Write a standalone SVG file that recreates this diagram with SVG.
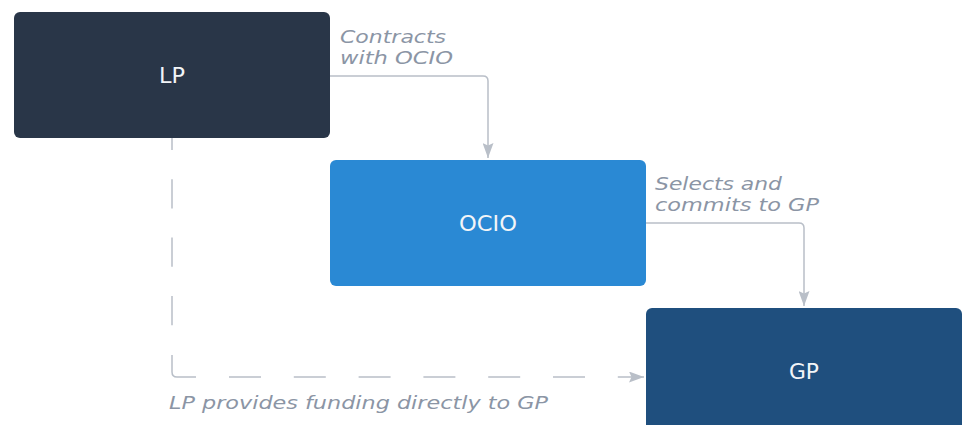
<svg xmlns="http://www.w3.org/2000/svg" width="964" height="425" viewBox="0 0 964 425">
  <defs>
    <marker id="arrow" viewBox="0 0 15 11" refX="15" refY="5.5" markerWidth="15" markerHeight="11" markerUnits="userSpaceOnUse" orient="auto">
      <path d="M0,0 L15,5.5 L0,11 L2.5,5.5 Z" fill="#B9BFC8"/>
    </marker>
    <style>
      .node-label { font-family: "DejaVu Sans", "Liberation Sans", sans-serif; font-size: 21px; fill: #F2F5F8; text-anchor: middle; dominant-baseline: central; }
      .edge-label { font-family: "DejaVu Sans", "Liberation Sans", sans-serif; font-size: 18px; font-style: italic; fill: #8B95A5; }
      .edge { fill: none; stroke: #B9BFC8; stroke-width: 1.5; }
    </style>
  </defs>

  <rect width="964" height="425" fill="#FFFFFF"/>

  <g id="connectors">
    <!-- LP to OCIO -->
    <path class="edge" d="M330,76 H483 Q488,76 488,81 V158" marker-end="url(#arrow)"/>
    <!-- OCIO to GP -->
    <path class="edge" d="M646,223 H799 Q804,223 804,228 V306" marker-end="url(#arrow)"/>
    <!-- LP directly to GP (dashed) -->
    <path class="edge" d="M172,138 V353" stroke-dasharray="29.2 29.2" stroke-dashoffset="17.2"/>
    <path class="edge" d="M172,355 V372 Q172,377 177,377 H196"/>
    <path class="edge" d="M229,377 H644" stroke-dasharray="32 32.8" marker-end="url(#arrow)"/>
  </g>

  <g id="node-lp">
    <rect x="14" y="12" width="316" height="126" rx="6" fill="#293648"/>
    <text class="node-label" x="172" y="76" textLength="26" lengthAdjust="spacingAndGlyphs">LP</text>
  </g>

  <g id="node-ocio">
    <rect x="330" y="160" width="316" height="126" rx="6" fill="#2A89D4"/>
    <text class="node-label" x="488" y="224" textLength="58" lengthAdjust="spacingAndGlyphs">OCIO</text>
  </g>

  <g id="node-gp">
    <rect x="646" y="308" width="316" height="130" rx="6" fill="#1F4F7E"/>
    <text class="node-label" x="804" y="372" textLength="30" lengthAdjust="spacingAndGlyphs">GP</text>
  </g>

  <g id="edge-labels">
    <text class="edge-label" x="340" y="42.5" textLength="106" lengthAdjust="spacingAndGlyphs">Contracts</text>
    <text class="edge-label" x="340" y="64" textLength="113" lengthAdjust="spacingAndGlyphs">with OCIO</text>
    <text class="edge-label" x="655" y="189.5" textLength="127" lengthAdjust="spacingAndGlyphs">Selects and</text>
    <text class="edge-label" x="655" y="211" textLength="164" lengthAdjust="spacingAndGlyphs">commits to GP</text>
    <text class="edge-label" x="169" y="409" textLength="379" lengthAdjust="spacingAndGlyphs">LP provides funding directly to GP</text>
  </g>
</svg>
